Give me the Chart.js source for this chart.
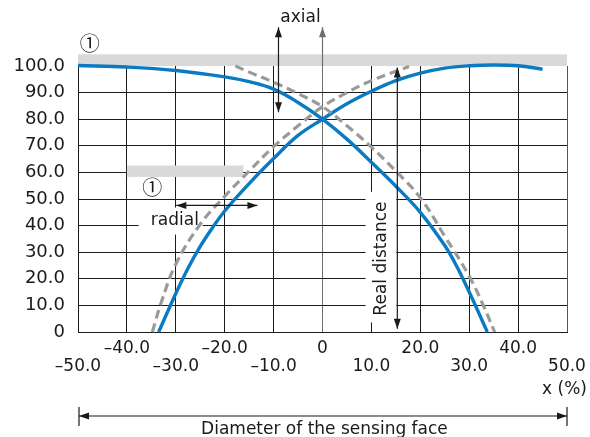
<!DOCTYPE html>
<html>
<head>
<meta charset="utf-8">
<script src="https://cdn.jsdelivr.net/npm/chart.js@4.4.1/dist/chart.umd.min.js"></script>
<style>
  html, body { margin: 0; padding: 0; background: #fff; }
</style>
</head>
<body>
<canvas id="chart" width="590" height="437"></canvas>
<script>
// Curves: x = % of the sensing face, y = % of switching distance
const blueFallX = [-50, -40, -30, -20, -15, -10, -5, 0, 5, 10, 15, 20, 25, 27.5, 30, 32, 33.7];
const blueFallY = [100.2, 99.6, 98.3, 95.9, 94.1, 91.3, 86.3, 80.0, 72.5, 63.8, 54.8, 45.0, 32.5, 24.5, 15.0, 7.0, 0];

const blueRiseX = [-33.5, -30, -27.5, -25, -22.5, -20, -15, -10, -5, 0, 5, 10, 15, 20, 25, 30, 35, 40, 45];
const blueRiseY = [0, 14.5, 24.0, 32.2, 39.2, 45.5, 55.8, 65.2, 73.9, 80.0, 85.8, 90.5, 94.5, 97.3, 99.2, 100.1, 100.4, 100.1, 98.8];

const grayFallX = [-17.8, -15, -10, -5, 0, 5, 10, 15, 20, 25, 30, 33, 35.2];
const grayFallY = [100, 97.7, 93.9, 89.6, 84.7, 77.5, 69.5, 60.5, 50.5, 36, 21, 9.5, 0];

const grayRiseX = [-34.8, -33, -30, -25, -20, -15, -10, -5, 0, 5, 10, 15, 17.7];
const grayRiseY = [0, 11, 25.5, 40.5, 51, 60.5, 69.7, 77.5, 84.7, 90, 94.5, 98, 99.8];

// tick labels
const xTickLabels = ['–50.0', '–40.0', '–30.0', '–20.0', '–10.0', '0', '10.0', '20.0', '30.0', '40.0', '50.0'];
const yTickLabels = ['0', '10.0', '20.0', '30.0', '40.0', '50.0', '60.0', '70.0', '80.0', '90.0', '100.0'];

const BLUE = '#0a7bc2';
const GRAY = '#9a9a9a';
const INK = '#1a1a1a';
const FONT = '"DejaVu Sans", "Noto Sans CJK JP", sans-serif';

function pairs(xs, ys) {
    return xs.map((v, i) => ({x: v, y: ys[i]}));
}

function head(ctx, x, y, angle) {
    // filled arrow head, tip at (x, y)
    const len = 10, half = 3.5;
    ctx.beginPath();
    ctx.moveTo(x, y);
    ctx.lineTo(x - len * Math.cos(angle) - half * Math.sin(angle), y - len * Math.sin(angle) + half * Math.cos(angle));
    ctx.lineTo(x - len * Math.cos(angle) + half * Math.sin(angle), y - len * Math.sin(angle) - half * Math.cos(angle));
    ctx.closePath();
    ctx.fill();
}

function arrow(ctx, x1, y1, x2, y2, startHead, endHead) {
    ctx.beginPath();
    ctx.moveTo(x1, y1);
    ctx.lineTo(x2, y2);
    ctx.stroke();
    const a = Math.atan2(y2 - y1, x2 - x1);
    if (endHead) head(ctx, x2, y2, a);
    if (startHead) head(ctx, x1, y1, a + Math.PI);
}

// bands, labels and arrows of the drawing
const annotations = {
    id: 'annotations',
    beforeDatasetsDraw(chart) {
        const {ctx, scales: {x, y}} = chart;
        const box = (x1, x2, y1, y2) => {
            const px1 = x.getPixelForValue(x1), px2 = x.getPixelForValue(x2);
            const py1 = y.getPixelForValue(y2), py2 = y.getPixelForValue(y1);
            ctx.fillRect(px1, py1, px2 - px1, py2 - py1);
        };
        ctx.save();
        ctx.fillStyle = '#d9d9d9';
        box(-50, 50, 100, 104.4);
        box(-40, -16.2, 58.3, 62.6);
        // white backing behind the labels
        ctx.fillStyle = '#fff';
        box(-37.6, -24.5, 36.6, 46.8);
        box(8.8, 15.1, 3.6, 52.7);
        ctx.restore();
    },
    afterDatasetsDraw(chart) {
        const {ctx, chartArea: a, scales: {x, y}} = chart;
        const px = v => x.getPixelForValue(v);
        const py = v => y.getPixelForValue(v);
        ctx.save();
        ctx.lineWidth = 1.2;

        // zero axis extended upwards
        ctx.strokeStyle = '#6e6e6e';
        ctx.fillStyle = '#6e6e6e';
        arrow(ctx, px(0), a.top, px(0), py(114.6), false, true);

        ctx.strokeStyle = INK;
        ctx.fillStyle = INK;
        // axial
        arrow(ctx, px(-9), py(114.6), px(-9), py(82.6), true, true);
        // real distance
        arrow(ctx, px(15.3), py(99.4), px(15.3), py(1.2), true, true);
        // radial
        arrow(ctx, px(-29.9), py(47.6), px(-13.3), py(47.6), true, true);
        // diameter of the sensing face
        const dy = a.bottom + 84;
        arrow(ctx, px(-50) + 1, dy, px(50), dy, true, true);
        ctx.beginPath();
        ctx.moveTo(px(-50) + 1, dy - 9); ctx.lineTo(px(-50) + 1, dy + 10);
        ctx.moveTo(px(50), dy - 9); ctx.lineTo(px(50), dy + 10);
        ctx.stroke();

        // texts
        ctx.font = '17px ' + FONT;
        ctx.textAlign = 'center';
        ctx.textBaseline = 'middle';
        ctx.fillText('axial', px(-4.5), 18);
        ctx.fillText('radial', px(-30.2), py(41.9));
        ctx.fillText('Diameter of the sensing face', px(0.4), a.bottom + 98);
        ctx.textAlign = 'right';
        ctx.fillText('x (%)', a.right + 20, a.bottom + 58);

        ctx.save();
        ctx.translate(px(12.1), py(27.6));
        ctx.rotate(-Math.PI / 2);
        ctx.textAlign = 'center';
        ctx.fillText('Real distance', 0, 0);
        ctx.restore();

        ctx.font = '20px "Noto Sans CJK JP", ' + FONT;
        ctx.textAlign = 'center';
        ctx.fillText('①', px(-47.6), py(108.5));
        ctx.fillText('①', px(-34.8), py(54.5));
        ctx.restore();
    }
};

const ctx = document.getElementById('chart').getContext('2d');

new Chart(ctx, {
    type: 'line',
    data: {
        datasets: [
            { data: pairs(grayFallX, grayFallY), borderColor: GRAY, borderDash: [9, 5], borderWidth: 3.2 },
            { data: pairs(grayRiseX, grayRiseY), borderColor: GRAY, borderDash: [9, 5], borderWidth: 3.2 },
            { data: pairs(blueFallX, blueFallY), borderColor: BLUE, borderWidth: 3.4 },
            { data: pairs(blueRiseX, blueRiseY), borderColor: BLUE, borderWidth: 3.4 }
        ].map(d => Object.assign(d, {
            pointRadius: 0,
            fill: false,
            clip: false,
            tension: 0.4
        }))
    },
    options: {
        responsive: false,
        animation: false,
        events: [],
        layout: { padding: { top: 66, right: 23, left: 0, bottom: 0 } },
        plugins: {
            legend: { display: false },
            tooltip: { enabled: false }
        },
        scales: {
            x: {
                type: 'linear',
                min: -50,
                max: 50,
                afterFit(scale) {
                    scale.height = 105;
                    scale.paddingLeft = 0;
                    scale.paddingRight = 0;
                },
                border: { color: INK, width: 1 },
                grid: {
                    drawTicks: false,
                    lineWidth: 1,
                    color: c => c.tick.value === 0 ? '#6e6e6e' : (c.tick.value === 50 ? '#555' : INK)
                },
                ticks: {
                    stepSize: 10,
                    autoSkip: false,
                    maxRotation: 0,
                    minRotation: 0,
                    padding: 8,
                    color: INK,
                    font: { family: FONT, size: 17, lineHeight: 1.05 },
                    // alternate the labels over two rows
                    callback: (v, i) => (Math.abs(v / 10) % 2 === 1) ? ['', xTickLabels[i]] : [xTickLabels[i], '']
                }
            },
            y: {
                min: 0,
                max: 100,
                afterFit(scale) { scale.width = 78; },
                border: { color: INK, width: 1 },
                grid: {
                    drawTicks: false,
                    lineWidth: 1,
                    color: c => c.tick.value === 100 ? 'rgba(0,0,0,0)' : INK
                },
                ticks: {
                    stepSize: 10,
                    padding: 13,
                    color: INK,
                    font: { family: FONT, size: 18 },
                    callback: (v, i) => yTickLabels[i]
                }
            }
        }
    },
    plugins: [annotations]
});
</script>
</body>
</html>
